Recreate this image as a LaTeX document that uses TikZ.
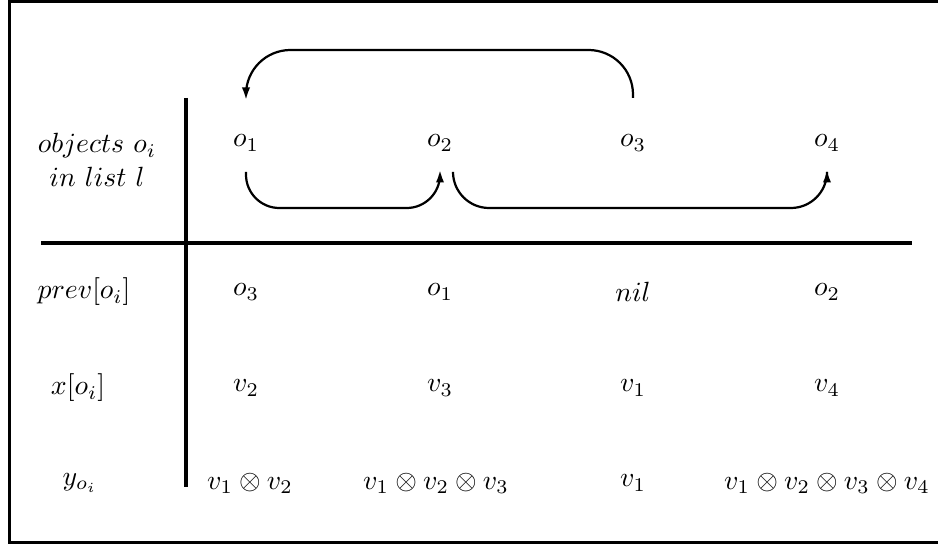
\documentclass[tikz,border=0pt]{standalone}
\usepackage{xcolor}
\usepackage{tikz}
\usetikzlibrary{arrows.meta,calc}

\begin{document}
\begin{tikzpicture}[
x=0.36pt, y=0.36pt,
cell/.style={inner sep=1pt},
lbl/.style={inner sep=1pt, align=center},
arr/.style={-{Latex[length=4.5pt,width=3pt]}, line width=0.8pt},
rule/.style={line width=1.3pt},
outerbox/.style={line width=1.1pt}
]
\useasboundingbox (0,0) rectangle (938,544);
\draw[outerbox] (9.5,1.5) rectangle (960,542.5);

\node[lbl] (objlbl) at (97,384) {$objects\ o_i$\\$in\ list\ l$};
\node[cell] (o1) at (246,401) {$o_1$};
\node[cell] (o2) at (440,401) {$o_2$};
\node[cell] (o3) at (633,401) {$o_3$};
\node[cell] (o4) at (827,401) {$o_4$};

\node[lbl] (prevlbl) at (84,252) {$prev[o_i]$};
\node[cell] (p1) at (246,252) {$o_3$};
\node[cell] (p2) at (440,252) {$o_1$};
\node[cell] (p3) at (633,252) {$nil$};
\node[cell] (p4) at (827,252) {$o_2$};

\node[lbl] (xlbl) at (78,156) {$x[o_i]$};
\node[cell] (x1) at (246,156) {$v_2$};
\node[cell] (x2) at (440,156) {$v_3$};
\node[cell] (x3) at (633,156) {$v_1$};
\node[cell] (x4) at (827,156) {$v_4$};

\node[lbl] (ylbl) at (80,61) {$y_{o_i}$};
\node[cell] (y1) at (250,61) {$v_1 \otimes v_2$};
\node[cell] (y2) at (436,61) {$v_1 \otimes v_2 \otimes v_3$};
\node[cell] (y3) at (633,61) {$v_1$};
\node[cell] (y4) at (827,61) {$v_1 \otimes v_2 \otimes v_3 \otimes v_4$};

% table rules
\draw[rule] (186,446) -- (186,57);
\draw[rule] (41,301) -- (912,301);

% list links
\draw[arr, rounded corners=16pt] ($(o3)+(0,45)$) |- ($(o2)+(0,93)$) -| ($(o1)+(0,43)$);
\draw[arr, rounded corners=12pt] ($(o1)+(0,-29)$) |- ($(o1)!.5!(o2)+(0,-65)$) -| ($(o2)+(0,-27)$);
\draw[arr, rounded corners=13pt] ($(o2)+(13,-29)$) |- ($(o3)+(0,-65)$) -| ($(o4)+(0,-27)$);
\end{tikzpicture}
\end{document}
